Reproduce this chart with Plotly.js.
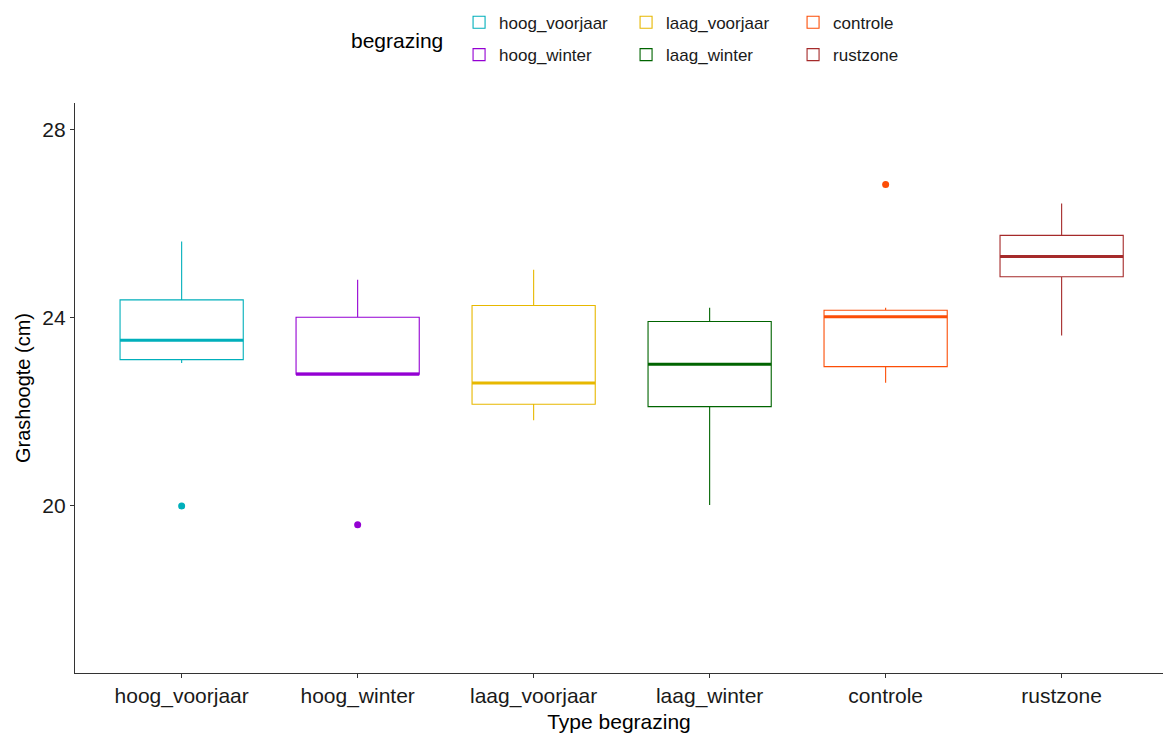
<!DOCTYPE html>
<html>
<head>
<meta charset="utf-8">
<script src="https://cdn.plot.ly/plotly-3.0.1.min.js"></script>
<style>html,body{margin:0;padding:0;background:#fff;}#chart{width:1163px;height:740px;}</style>
</head>
<body>
<div id="chart"></div>
<script>
// ---- data ----
const categories = ["hoog_voorjaar", "hoog_winter", "laag_voorjaar", "laag_winter", "controle", "rustzone"];
const lowerWhisker = [23.04, 22.80, 21.82, 20.02, 22.62, 23.62];
const q1Values     = [23.11, 22.80, 22.16, 22.11, 22.96, 24.87];
const medianValues = [23.52, 22.80, 22.61, 23.01, 24.02, 25.30];
const q3Values     = [24.38, 24.01, 24.26, 23.92, 24.16, 25.75];
const upperWhisker = [25.62, 24.81, 25.02, 24.21, 24.21, 26.43];
const outlierCategories = ["hoog_voorjaar", "hoog_winter", "controle"];
const outlierValues     = [20.00, 19.60, 26.83];
const legendRows = [["hoog_voorjaar", "laag_voorjaar", "controle"], ["hoog_winter", "laag_winter", "rustzone"]];

// ---- styling ----
const colors = {
  hoog_voorjaar: "#00AFBB",
  hoog_winter: "#9400D3",
  laag_voorjaar: "#E7B800",
  laag_winter: "#006400",
  controle: "#FC4E07",
  rustzone: "#A52A2A"
};
const FONT = "Liberation Sans, Arial, sans-serif";

const traces = [];
categories.forEach((cat, i) => {
  const row = legendRows[0].includes(cat) ? 0 : 1;
  const col = legendRows[row].indexOf(cat);
  traces.push({
    type: "box",
    name: cat,
    x: [cat],
    q1: [q1Values[i]],
    median: [medianValues[i]],
    q3: [q3Values[i]],
    lowerfence: [lowerWhisker[i]],
    upperfence: [upperWhisker[i]],
    width: 0.7,
    whiskerwidth: 0,
    fillcolor: "rgba(255,255,255,0)",
    line: { color: colors[cat], width: 1.1 },
    legend: row === 0 ? "legend" : "legend2",
    legendrank: col + 1,
    hoverinfo: "y"
  });
  // thick median line drawn as a flat box
  traces.push({
    type: "box",
    x: [cat],
    q1: [medianValues[i]],
    median: [medianValues[i]],
    q3: [medianValues[i]],
    lowerfence: [medianValues[i]],
    upperfence: [medianValues[i]],
    width: 0.7,
    whiskerwidth: 0,
    fillcolor: "rgba(255,255,255,0)",
    line: { color: colors[cat], width: 3 },
    showlegend: false,
    hoverinfo: "skip"
  });
});
outlierCategories.forEach((cat, j) => {
  traces.push({
    type: "scatter",
    mode: "markers",
    x: [cat],
    y: [outlierValues[j]],
    marker: { color: colors[cat], size: 7 },
    showlegend: false,
    hoverinfo: "y"
  });
});

const legendCommon = {
  orientation: "h",
  xanchor: "left",
  yanchor: "middle",
  x: 0.353,
  entrywidth: 122,
  entrywidthmode: "pixels",
  font: { family: FONT, size: 17, color: "#1a1a1a" },
  bgcolor: "rgba(0,0,0,0)",
  traceorder: "normal",
  itemclick: false,
  itemdoubleclick: false
};

const layout = {
  width: 1163,
  height: 740,
  margin: { l: 75, r: 0, t: 103, b: 67 },
  paper_bgcolor: "#fff",
  plot_bgcolor: "#fff",
  font: { family: FONT, color: "#1a1a1a" },
  boxmode: "overlay",
  showlegend: true,
  legend: Object.assign({}, legendCommon, { y: 1.141 }),
  legend2: Object.assign({}, legendCommon, { y: 1.084 }),
  annotations: [{
    text: "begrazing",
    xref: "paper", yref: "paper",
    x: 0.296, y: 1.110,
    xanchor: "center", yanchor: "middle",
    showarrow: false,
    font: { family: FONT, size: 21, color: "#000" }
  }],
  xaxis: {
    type: "category",
    categoryorder: "array",
    categoryarray: categories,
    range: [-0.606, 5.576],
    showline: true, linecolor: "#333", linewidth: 1.2,
    ticks: "outside", ticklen: 4, tickcolor: "#333", tickwidth: 1.2,
    showgrid: false, zeroline: false,
    tickfont: { family: FONT, size: 21, color: "#1a1a1a" },
    title: { text: "Type begrazing", font: { family: FONT, size: 21, color: "#000" }, standoff: 6 },
    fixedrange: true
  },
  yaxis: {
    range: [16.447, 28.565],
    tickvals: [20, 24, 28],
    ticktext: ["20", "24", "28"],
    showline: true, linecolor: "#333", linewidth: 1.2,
    ticks: "outside", ticklen: 4, tickcolor: "#333", tickwidth: 1.2,
    showgrid: false, zeroline: false,
    tickfont: { family: FONT, size: 21, color: "#1a1a1a" },
    title: { text: "Grashoogte (cm)", font: { family: FONT, size: 20, color: "#000" }, standoff: 6 },
    fixedrange: true
  }
};

Plotly.newPlot("chart", traces, layout, { displayModeBar: false, staticPlot: true });
</script>
</body>
</html>
